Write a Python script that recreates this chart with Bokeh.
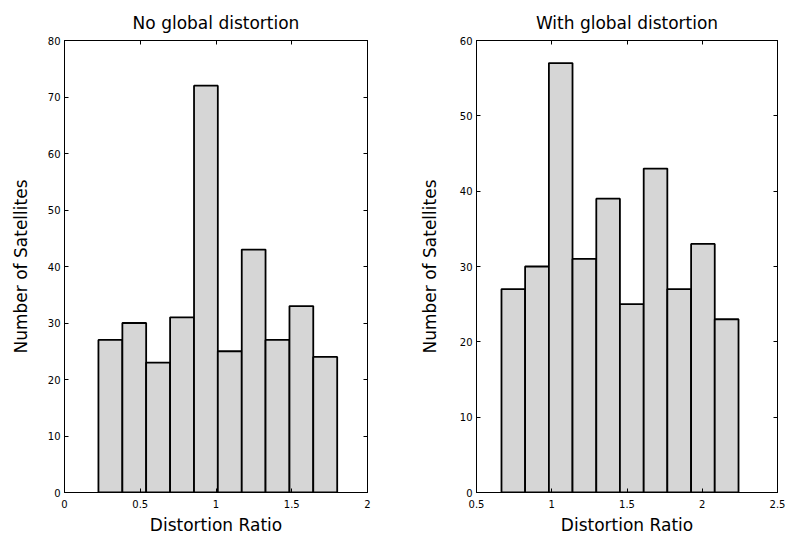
from bokeh.plotting import figure
from bokeh.layouts import row
from bokeh.models import LinearAxis, FixedTicker, ColumnDataSource, Range1d
from bokeh.embed import file_html
from bokeh.resources import INLINE

# ---- data ----
left_edges = [0.224, 0.382, 0.539, 0.697, 0.855, 1.012, 1.170, 1.327, 1.485, 1.642, 1.800]
left_counts = [27, 30, 23, 31, 72, 25, 43, 27, 33, 24]
left_xticks = [0, 0.5, 1, 1.5, 2]
left_yticks = [0, 10, 20, 30, 40, 50, 60, 70, 80]

right_edges = [0.666, 0.823, 0.981, 1.138, 1.296, 1.453, 1.611, 1.768, 1.926, 2.083, 2.241]
right_counts = [27, 30, 57, 31, 39, 25, 43, 27, 33, 23]
right_xticks = [0.5, 1, 1.5, 2, 2.5]
right_yticks = [0, 10, 20, 30, 40, 50, 60]

titles = ["No global distortion", "With global distortion"]
xlabel = "Distortion Ratio"
ylabel = "Number of Satellites"

FONT = "DejaVu Sans"
BAR_FILL = "#d6d6d6"


def style_axis(ax, ticks, show_labels=True, standoff=4):
    ax.ticker = FixedTicker(ticks=ticks)
    ax.major_tick_in = 4
    ax.major_tick_out = 0
    ax.minor_tick_line_color = None
    ax.axis_line_color = "black"
    ax.major_tick_line_color = "black"
    ax.major_label_text_font = FONT
    ax.major_label_text_font_size = "10px"
    ax.major_label_text_color = "black"
    ax.major_label_standoff = standoff
    if not show_labels:
        ax.major_label_text_font_size = "0px"
        ax.major_label_text_color = None


def make_plot(edges, counts, xticks, yticks, xr, yr, title, w, bl, br, ylab_standoff):
    p = figure(width=w, height=542, output_backend="svg", toolbar_location=None,
               x_range=Range1d(*xr), y_range=Range1d(*yr),
               min_border_left=bl, min_border_right=br,
               min_border_top=40, min_border_bottom=50)
    p.title.text = title
    p.title.align = "center"
    p.title.text_font = FONT
    p.title.text_font_size = "17px"
    p.title.text_font_style = "normal"
    p.title.text_color = "black"
    p.title.standoff = 16
    p.xgrid.visible = False
    p.ygrid.visible = False
    p.outline_line_color = "black"
    p.outline_line_width = 1
    p.background_fill_color = "white"
    p.border_fill_color = "white"

    src = ColumnDataSource(dict(left=edges[:-1], right=edges[1:],
                                top=counts, bottom=[0] * len(counts)))
    p.quad(left="left", right="right", top="top", bottom="bottom", source=src,
           fill_color=BAR_FILL, line_color="black", line_width=1.8)

    style_axis(p.xaxis[0], xticks, standoff=7)
    style_axis(p.yaxis[0], yticks, standoff=4)
    p.xaxis[0].axis_label = xlabel
    p.yaxis[0].axis_label = ylabel
    for ax in (p.xaxis[0], p.yaxis[0]):
        ax.axis_label_text_font = FONT
        ax.axis_label_text_font_size = "17px"
        ax.axis_label_text_font_style = "normal"
        ax.axis_label_text_color = "black"
    p.xaxis[0].axis_label_standoff = 4
    p.yaxis[0].axis_label_standoff = ylab_standoff

    top_ax = LinearAxis()
    style_axis(top_ax, xticks, show_labels=False)
    p.add_layout(top_ax, "above")
    right_ax = LinearAxis()
    style_axis(right_ax, yticks, show_labels=False)
    p.add_layout(right_ax, "right")
    return p


p1 = make_plot(left_edges, left_counts, left_xticks, left_yticks, (0, 2), (0, 80),
               titles[0], 394, 64, 27, 14)
p2 = make_plot(right_edges, right_counts, right_xticks, right_yticks, (0.5, 2.5), (0, 60),
               titles[1], 394, 82, 11, 17)

layout = row(p1, p2)
open("out.html", "w").write(file_html(layout, INLINE))
